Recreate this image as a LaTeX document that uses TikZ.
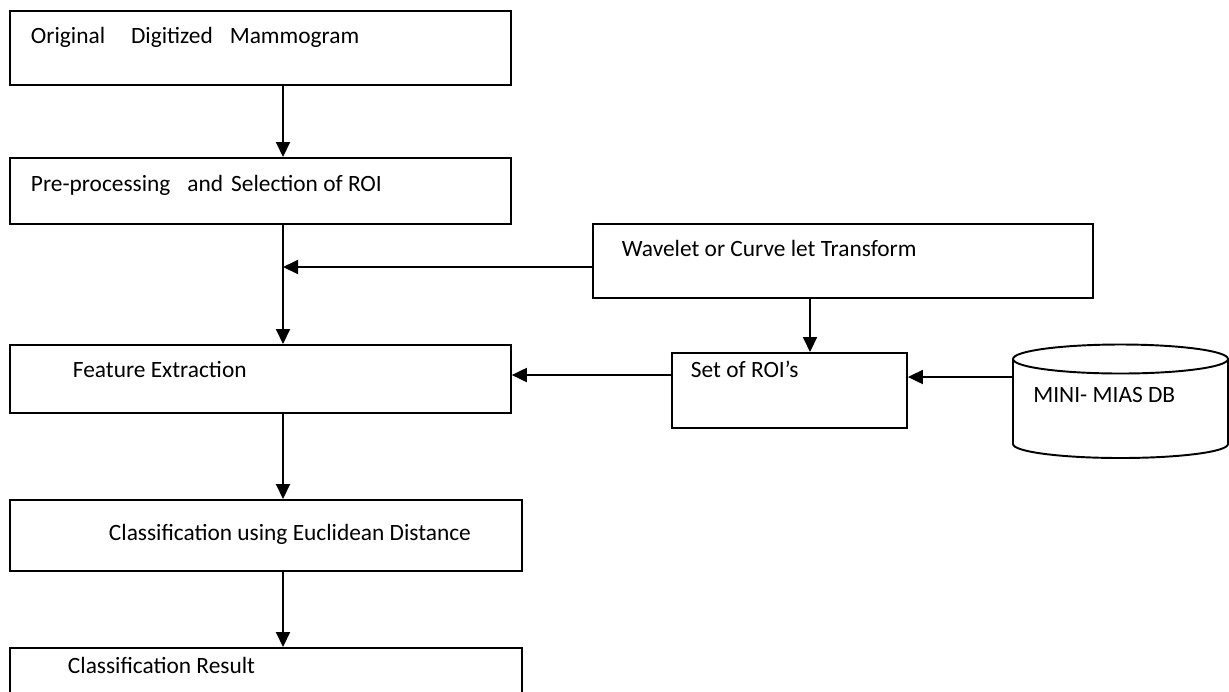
\documentclass[tikz,border=0pt]{standalone}
\usepackage{fontspec}
\setmainfont{Carlito}
\usetikzlibrary{arrows.meta}

\tikzset{
  txt/.style={font=\fontsize{13.3}{16}\selectfont},
  box/.style={txt, draw, line width=1.1pt, rectangle, inner sep=0pt, align=flush left, anchor=north west},
  arr/.style={line width=1.1pt, -{Triangle[length=0.3cm,width=0.28cm]}},
}

\begin{document}
\begin{tikzpicture}[x=0.02cm,y=-0.02cm]
\useasboundingbox (0,0) rectangle (1229,691);

% main column
\node[box, text width=10.02cm, text height=0.65cm, text depth=0.83cm] (orig) at (9,10)
  {\noindent\hspace*{0.42cm}Original\hspace{0.52cm}Digitized\hspace{0.34cm}Mammogram};
\node[box, text width=10.02cm, text height=0.68cm, text depth=0.64cm] (pre) at (9,157)
  {\noindent\hspace*{0.42cm}Pre-processing\hspace{0.34cm}and\hspace{0.16cm}Selection of ROI};
\node[box, text width=10.02cm, text height=0.66cm, text depth=0.70cm] (feat) at (9,344)
  {\noindent\hspace*{1.26cm}Feature Extraction};
\node[box, text width=10.24cm, text height=0.82cm, text depth=0.60cm] (class) at (9,499)
  {\noindent\hspace*{1.98cm}Classification using Euclidean Distance};
\node[box, text width=10.24cm, text height=0.52cm, text depth=0.54cm] (result) at (9,647)
  {\noindent\hspace*{1.16cm}Classification Result};

% right side
\node[box, text width=10cm, text height=0.66cm, text depth=0.82cm] (wav) at (592,223)
  {\noindent\hspace*{0.58cm}Wavelet or Curve let Transform};
\node[box, text width=4.7cm, text height=0.5cm, text depth=1.0cm] (roi) at (671,352)
  {\noindent\hspace*{0.38cm}Set of ROI’s};

% database
\draw[line width=1.1pt] (1120.5,359) ellipse [x radius=107.5, y radius=14.5];
\draw[line width=1.1pt] (1013,359) -- (1013,444) arc [start angle=180, end angle=0, x radius=107.5, y radius=14] -- (1228,359);
\node[txt, anchor=base west, inner sep=0pt] (db) at (1033,402) {MINI- MIAS DB};

% connectors
\coordinate (spine) at (283,0);
\coordinate (merge) at (283,267);
\coordinate (wavdrop) at (810,0);
\coordinate (roirow) at (0,375);
\coordinate (dbw) at (1013,377);

\draw[arr] (orig.south -| spine) -- (pre.north -| spine);
\draw[arr] (pre.south -| spine) -- (feat.north -| spine);
\draw[arr] (feat.south -| spine) -- (class.north -| spine);
\draw[arr] (class.south -| spine) -- (result.north -| spine);
\draw[arr] (wav.west |- merge) -- (merge);
\draw[arr] (wav.south -| wavdrop) -- (roi.north -| wavdrop);
\draw[arr] (roi.west |- roirow) -- (feat.east |- roirow);
\draw[arr] (dbw) -- (roi.east |- dbw);
\end{tikzpicture}
\end{document}
